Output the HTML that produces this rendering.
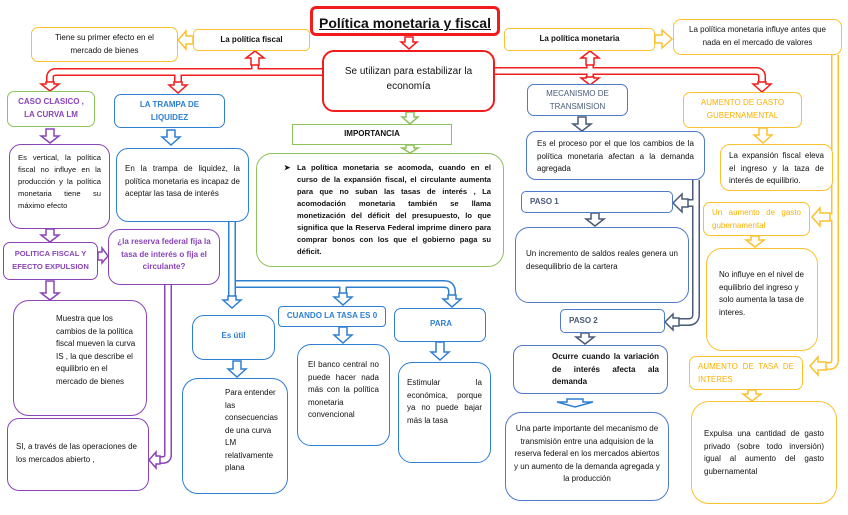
<!DOCTYPE html>
<html><head><meta charset="utf-8"><style>
body{margin:0;width:848px;height:515px;background:#fff;position:relative;overflow:hidden;font-family:"Liberation Sans",sans-serif;color:#111}
.b{position:absolute;box-sizing:border-box;background:#fff;border:1.5px solid;border-radius:12px;font-size:8px;line-height:12.5px;padding:6px 8px}
.y{border-color:#fcc12e}.r{border-color:#f21c1c}.g{border-color:#8cc35a}.p{border-color:#8a44b8}.bl{border-color:#2e7fd0}.gb{border-color:#4f79c9}
.c{text-align:center}.j{text-align:justify}.bo{font-weight:bold}
svg{position:absolute;left:0;top:0}
</style></head><body>
<svg width="848" height="515">
<g fill="none">
<path d="M322,72 H56 Q50,72 50,78 V84 M178,72 V84 M255,72 V60" stroke="#f21c1c" stroke-width="8"/>
<path d="M322,72 H56 Q50,72 50,78 V84 M178,72 V84 M255,72 V60" stroke="#fff" stroke-width="5"/>
<path d="M495,71 H756 Q762,71 762,77 V84 M590,71 V82 M590,71 V60" stroke="#f21c1c" stroke-width="8"/>
<path d="M495,71 H756 Q762,71 762,77 V84 M590,71 V82 M590,71 V60" stroke="#fff" stroke-width="5"/>
<path d="M232,222 V300 M236,284 H444 Q452,284 452,292 V299 M343,284 V297" stroke="#2e7fd0" stroke-width="8"/>
<path d="M232,222 V300 M236,284 H444 Q452,284 452,292 V299 M343,284 V297" stroke="#fff" stroke-width="5"/>
<path d="M696,180 V314 Q696,322 688,322 H676 M696,203 H686" stroke="#4a5a78" stroke-width="8"/>
<path d="M696,180 V314 Q696,322 688,322 H676 M696,203 H686" stroke="#fff" stroke-width="5"/>
<path d="M835,55 V360 Q835,366 829,366 H820 M835,217 H826" stroke="#fcc12e" stroke-width="8"/>
<path d="M835,55 V360 Q835,366 829,366 H820 M835,217 H826" stroke="#fff" stroke-width="5"/>
<path d="M168,285 V455 Q168,460 162,460 H158" stroke="#8a44b8" stroke-width="8"/>
<path d="M168,285 V455 Q168,460 162,460 H158" stroke="#fff" stroke-width="5"/>
</g>
<g fill="#fff" stroke-width="1.5">
<polygon stroke="#f21c1c" points="405,37 413,37 413,42 417,42 409,49 401,42 405,42"/>
<polygon stroke="#f21c1c" points="251,65 259,65 259,58 264,58 255,51 246,58 251,58"/>
<polygon stroke="#f21c1c" points="46,82 54,82 54,84 59,84 50,91 41,84 46,84"/>
<polygon stroke="#f21c1c" points="174,82 182,82 182,85 187,85 178,93 169,85 174,85"/>
<polygon stroke="#f21c1c" points="586,65 594,65 594,58 599,58 590,51 581,58 586,58"/>
<polygon stroke="#f21c1c" points="586,77 594,77 594,78 599,78 590,85 581,78 586,78"/>
<polygon stroke="#f21c1c" points="758,82 766,82 766,84 771,84 762,92 753,84 758,84"/>
<polygon stroke="#fcc12e" points="193,36 186,36 186,31 178,40 186,49 186,44 193,44"/>
<polygon stroke="#fcc12e" points="655,35 662,35 662,30 672,39 662,48 662,43 655,43"/>
<polygon stroke="#fcc12e" points="759,128 767,128 767,135 772,135 763,143 754,135 759,135"/>
<polygon stroke="#fcc12e" points="751,236 759,236 759,240 764,240 755,247 746,240 751,240"/>
<polygon stroke="#fcc12e" points="748,390 756,390 756,394 761,394 752,401 743,394 748,394"/>
<polygon stroke="#fcc12e" points="830,213 820,213 820,208 812,217 820,226 820,221 830,221"/>
<polygon stroke="#fcc12e" points="826,362 818,362 818,357 810,366 818,375 818,370 826,370"/>
<polygon stroke="#8cc35a" points="406,112 414,112 414,117 418,117 410,124 402,117 406,117"/>
<polygon stroke="#8cc35a" points="406,145 414,145 414,148 418,148 410,153 402,148 406,148"/>
<polygon stroke="#8a44b8" points="46,129 54,129 54,136 59,136 50,143 41,136 46,136"/>
<polygon stroke="#8a44b8" points="46,229 54,229 54,235 59,235 50,242 41,235 46,235"/>
<polygon stroke="#8a44b8" points="46,281 54,281 54,293 59,293 50,300 41,293 46,293"/>
<polygon stroke="#8a44b8" points="98,252 102,252 102,248 108,256 102,263 102,260 98,260"/>
<polygon stroke="#8a44b8" points="160,456 156,456 156,452 149,460 156,468 156,464 160,464"/>
<polygon stroke="#2e7fd0" points="167,130 175,130 175,137 180,137 171,145 162,137 167,137"/>
<polygon stroke="#2e7fd0" points="228,296 236,296 236,300 241,300 232,308 223,300 228,300"/>
<polygon stroke="#2e7fd0" points="339,293 347,293 347,297 352,297 343,305 334,297 339,297"/>
<polygon stroke="#2e7fd0" points="448,295 456,295 456,299 461,299 452,307 443,299 448,299"/>
<polygon stroke="#2e7fd0" points="339,327 347,327 347,335 352,335 343,343 334,335 339,335"/>
<polygon stroke="#2e7fd0" points="436,342 444,342 444,352 449,352 440,360 431,352 436,352"/>
<polygon stroke="#2e7fd0" points="233,361 241,361 241,369 246,369 237,377 228,369 233,369"/>
<polygon stroke="#2e7fd0" points="567,399 583,399 583,402 593,402 575,407 557,402 567,402"/>
<polygon stroke="#4a5a78" points="578,117 586,117 586,124 591,124 582,131 573,124 578,124"/>
<polygon stroke="#4a5a78" points="591,213 599,213 599,219 604,219 595,226 586,219 591,219"/>
<polygon stroke="#4a5a78" points="581,333 589,333 589,337 594,337 585,344 576,337 581,337"/>
<polygon stroke="#4a5a78" points="688,199 682,199 682,194 673,203 682,212 682,207 688,207"/>
<polygon stroke="#4a5a78" points="679,318 673,318 673,314 665,322 673,330 673,326 679,326"/>
</g>
</svg>

<div class="b r c bo" style="left:310px;top:6px;width:190px;height:30px;border-width:3px;border-radius:6px;font-size:14px;line-height:16px;padding:6px 0;text-decoration:underline">Política monetaria y fiscal</div>
<div class="b y c bo" style="left:193px;top:29px;width:117px;height:22px;border-radius:5px;padding:4px">La política fiscal</div>
<div class="b y c" style="left:31px;top:27px;width:147px;height:35px;border-radius:7px;padding:4px 6px">Tiene su primer efecto en el<br>mercado de bienes</div>
<div class="b y c bo" style="left:504px;top:28px;width:151px;height:23px;border-radius:5px;padding:4px">La política monetaria</div>
<div class="b y c" style="left:673px;top:19px;width:169px;height:36px;border-radius:8px;padding:4px 6px">La política monetaria influye antes que nada en el mercado de valores</div>
<div class="b r c" style="left:322px;top:50px;width:173px;height:62px;border-width:2px;font-size:10px;line-height:15px;padding:12px 10px">Se utilizan para estabilizar la economía</div>
<div class="b g c bo" style="left:292px;top:124px;width:160px;height:21px;border-radius:0;padding:3px">IMPORTANCIA</div>
<div class="b g j bo" style="left:256px;top:153px;width:248px;height:114px;border-radius:16px;padding:8px 12px 0 40px;line-height:12px;font-size:7.6px"><span style="position:absolute;left:27px;top:8px">➤</span>La política monetaria se acomoda, cuando en el curso de la expansión fiscal, el circulante aumenta para que no suban las tasas de interés , La acomodación monetaria también se llama monetización del déficit del presupuesto, lo que significa que la Reserva Federal imprime dinero para comprar bonos con los que el gobierno paga su déficit.</div>

<div class="b g c bo" style="left:7px;top:91px;width:88px;height:36px;color:#8a44b8;padding:4px 2px;border-radius:7px">CASO CLASICO ,<br>LA CURVA LM</div>
<div class="b bl c bo" style="left:114px;top:94px;width:111px;height:34px;color:#2e7fd0;padding:4px;border-radius:7px">LA TRAMPA DE<br>LIQUIDEZ</div>
<div class="b p j" style="left:9px;top:144px;width:101px;height:85px;padding:7px 8px;font-size:7.6px;line-height:12px">Es vertical, la política fiscal no influye en la producción y la política monetaria tiene su máximo efecto</div>
<div class="b bl j" style="left:116px;top:148px;width:133px;height:74px;padding:14px 8px">En la trampa de liquidez, la política monetaria es incapaz de aceptar las tasa de interés</div>
<div class="b p c bo" style="left:3px;top:242px;width:95px;height:38px;color:#8a44b8;padding:5px 1px;border-radius:7px;font-size:7.6px">POLITICA FISCAL Y EFECTO EXPULSION</div>
<div class="b p c" style="left:108px;top:229px;width:112px;height:56px;color:#8a44b8;padding:6px 4px;font-weight:bold">¿la reserva federal fija la tasa de interés o fija el circulante?</div>
<div class="b p" style="left:13px;top:300px;width:134px;height:116px;padding:12px 6px 0 42px;border-radius:16px">Muestra que los cambios de la política fiscal mueven la curva IS , la que describe el equilibrio en el mercado de bienes</div>
<div class="b p" style="left:7px;top:418px;width:142px;height:73px;padding:22px 8px;border-radius:12px">SI, a través de las operaciones de los mercados abierto ,</div>
<div class="b bl c bo" style="left:192px;top:315px;width:83px;height:45px;color:#2e7fd0;padding:14px 4px">Es útil</div>
<div class="b bl" style="left:182px;top:378px;width:106px;height:116px;padding:8px 4px 0 42px;border-radius:16px">Para entender las consecuencias de una curva LM relativamente plana</div>
<div class="b bl c bo" style="left:278px;top:306px;width:108px;height:21px;color:#2e7fd0;padding:3px 2px;border-radius:4px">CUANDO LA TASA ES 0</div>
<div class="b bl j" style="left:297px;top:344px;width:93px;height:102px;padding:14px 10px;border-radius:14px">El banco central no puede hacer nada más con la política monetaria convencional</div>
<div class="b bl bo" style="left:394px;top:308px;width:92px;height:34px;color:#2e7fd0;padding:9px 35px;border-radius:7px">PARA</div>
<div class="b bl j" style="left:398px;top:362px;width:93px;height:101px;padding:14px 8px;border-radius:14px">Estimular la económica, porque ya no puede bajar más la tasa</div>

<div class="b gb c" style="left:527px;top:84px;width:101px;height:32px;color:#4a5a78;padding:3px;border-radius:7px">MECANISMO DE TRANSMISION</div>
<div class="b gb j" style="left:526px;top:131px;width:179px;height:49px;padding:6px 10px;border-radius:10px">Es el proceso por el que los cambios de la política monetaria afectan a la demanda agregada</div>
<div class="b gb bo" style="left:521px;top:191px;width:152px;height:22px;color:#4a5a78;padding:4px 8px;border-radius:5px">PASO 1</div>
<div class="b gb j" style="left:515px;top:227px;width:174px;height:76px;padding:20px 10px;border-radius:14px">Un incremento de saldos reales genera un desequilibrio de la cartera</div>
<div class="b gb bo" style="left:560px;top:309px;width:105px;height:24px;color:#4a5a78;padding:5px 8px;border-radius:5px">PASO 2</div>
<div class="b gb j bo" style="left:513px;top:345px;width:155px;height:49px;padding:5px 8px 0 38px;border-radius:10px">Ocurre cuando la variación de interés afecta ala demanda</div>
<div class="b gb c" style="left:505px;top:412px;width:164px;height:89px;padding:10px 6px;border-radius:16px">Una parte importante del mecanismo de transmisión entre una adquision de la reserva federal en los mercados abiertos y un aumento de la demanda agregada y la producción</div>

<div class="b y c" style="left:683px;top:92px;width:119px;height:36px;color:#fcb000;padding:4px;border-radius:7px">AUMENTO DE GASTO GUBERNAMENTAL</div>
<div class="b y j" style="left:720px;top:144px;width:113px;height:47px;padding:5px 8px;border-radius:10px">La expansión fiscal eleva el ingreso y la taza de interés de equilibrio.</div>
<div class="b y j" style="left:703px;top:202px;width:107px;height:34px;color:#fcb000;padding:4px 8px;border-radius:7px">Un aumento de gasto gubernamental</div>
<div class="b y" style="left:706px;top:248px;width:112px;height:103px;padding:20px 8px 0 12px;border-radius:16px">No influye en el nivel de equilibrio del ingreso y solo aumenta la tasa de interes.</div>
<div class="b y j" style="left:689px;top:356px;width:114px;height:34px;color:#fcb000;padding:4px 8px;border-radius:7px">AUMENTO DE TASA DE INTERES</div>
<div class="b y j" style="left:691px;top:401px;width:146px;height:103px;padding:26px 12px;border-radius:18px">Expulsa una cantidad de gasto privado (sobre todo inversión) igual al aumento del gasto gubernamental</div>
</body></html>
